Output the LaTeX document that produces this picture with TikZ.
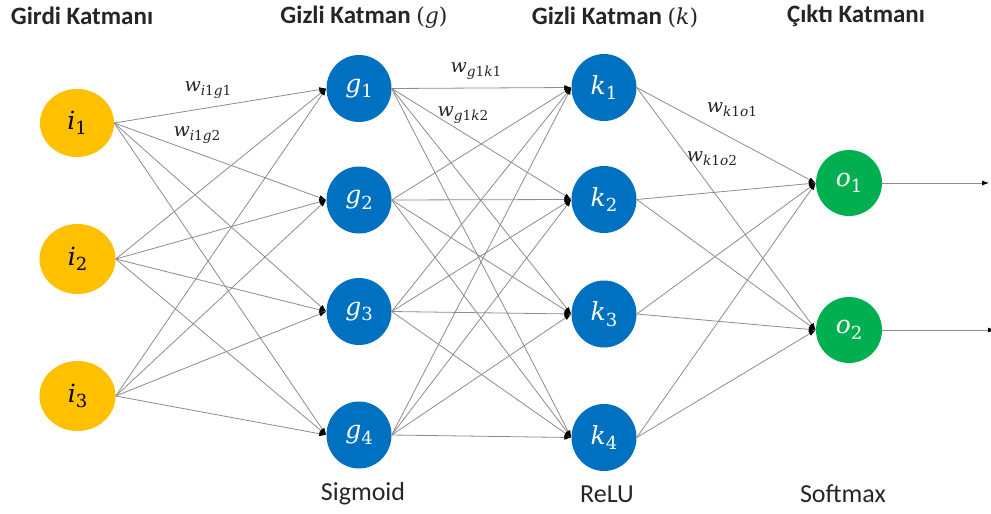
\documentclass[tikz,border=0pt]{standalone}
\usepackage{fontspec}
\usepackage{graphicx}
\setmainfont{Carlito}
\newfontfamily\varfont{DejaVu Serif}
\usetikzlibrary{shapes.geometric,arrows.meta}
\definecolor{inyel}{HTML}{FFC000}
\definecolor{hidblue}{HTML}{0070C0}
\definecolor{outgreen}{HTML}{00B050}
\definecolor{edgegray}{HTML}{8C8C8C}
% variable with subscript, set in a serif italic
\newcommand\vsub[2]{{\varfont\itshape #1}\raisebox{-0.45ex}{\scalebox{0.72}{\varfont #2}}}
\newcommand\wsub[1]{{\varfont\itshape w}\raisebox{-0.45ex}{\scalebox{0.72}{\varfont #1}}}
\newcommand\ivar[1]{{\itshape #1}}
\begin{document}
\begin{tikzpicture}[x=1pt,y=-1pt,
  neuron/.style={ellipse,inner sep=0pt,font=\fontsize{25}{27}\selectfont},
  inneuron/.style={neuron,fill=inyel,minimum width=76pt,minimum height=70pt,text=black},
  hidneuron/.style={neuron,fill=hidblue,minimum width=65pt,minimum height=67pt,text=white},
  outneuron/.style={neuron,fill=outgreen,minimum width=66pt,minimum height=66pt,text=white},
  conn/.style={draw=edgegray,line width=0.8pt,-{Latex[length=7pt,width=5pt,black]}},
  title/.style={font=\fontsize{25}{28}\selectfont\bfseries,text=black!85},
  actlabel/.style={font=\fontsize{26}{28}\selectfont,text=black!85},
  wlabel/.style={font=\fontsize{19}{21}\selectfont,text=black!85}
]
\useasboundingbox (0,0) rectangle (991,514);

\node[title] (t1) at (82,16) {Girdi Katmanı};
\node[title] (t2) at (364,17) {Gizli Katman {\mdseries\varfont\fontsize{22}{24}\selectfont(\itshape g\/\upshape)}};
\node[title] (t3) at (615,17) {Gizli Katman {\mdseries\varfont\fontsize{22}{24}\selectfont(\itshape k\/\upshape)}};
\node[title] (t4) at (856,16) {Çıktı Katmanı};

\node[inneuron,minimum width=74pt,minimum height=68pt] (i1) at (77,123) {\vsub{i}{1}};
\node[inneuron] (i2) at (77.5,259) {\vsub{i}{2}};
\node[inneuron] (i3) at (77.5,396) {\vsub{i}{3}};

\node[hidneuron] (g1) at (359,88.5) {\vsub{g}{1}};
\node[hidneuron] (g2) at (359,200) {\vsub{g}{2}};
\node[hidneuron] (g3) at (359,311.5) {\vsub{g}{3}};
\node[hidneuron] (g4) at (359,435) {\vsub{g}{4}};

\node[hidneuron] (k1) at (604,87.5) {\vsub{k}{1}};
\node[hidneuron] (k2) at (604,199.5) {\vsub{k}{2}};
\node[hidneuron] (k3) at (604,314) {\vsub{k}{3}};
\node[hidneuron] (k4) at (604,437.5) {\vsub{k}{4}};

\node[outneuron] (o1) at (849,183) {\vsub{o}{1}};
\node[outneuron] (o2) at (849,330) {\vsub{o}{2}};

\coordinate (y1) at (989,183);
\coordinate (y2) at (995,330);

\foreach \a in {1,2,3}{
  \foreach \b in {1,2,3,4}{
    \draw[conn] (i\a.east) -- (g\b.west);
  }
}
\foreach \a in {1,2,3,4}{
  \foreach \b in {1,2,3,4}{
    \draw[conn] (g\a.east) -- (k\b.west);
  }
}
\foreach \a in {1,2,3,4}{
  \foreach \b in {1,2}{
    \draw[conn] (k\a.east) -- (o\b.west);
  }
}
\draw[conn] (o1.east) -- (y1);
\draw[conn] (o2.east) -- (y2);

\node[wlabel] (w1) at (208,90) {\wsub{\ivar{i}1\ivar{g}1}};
\node[wlabel] (w2) at (197,135) {\wsub{\ivar{i}1\ivar{g}2}};
\node[wlabel] (w3) at (476,71) {\wsub{\ivar{g}1\ivar{k}1}};
\node[wlabel] (w4) at (463,115) {\wsub{\ivar{g}1\ivar{k}2}};
\node[wlabel] (w5) at (732,110) {\wsub{\ivar{k}1\ivar{o}1}};
\node[wlabel] (w6) at (712,159) {\wsub{\ivar{k}1\ivar{o}2}};

\node[actlabel] (a1) at (363,494) {Sigmoid};
\node[actlabel] (a2) at (607,494) {ReLU};
\node[actlabel] (a3) at (843,494) {Softmax};
\end{tikzpicture}
\end{document}
